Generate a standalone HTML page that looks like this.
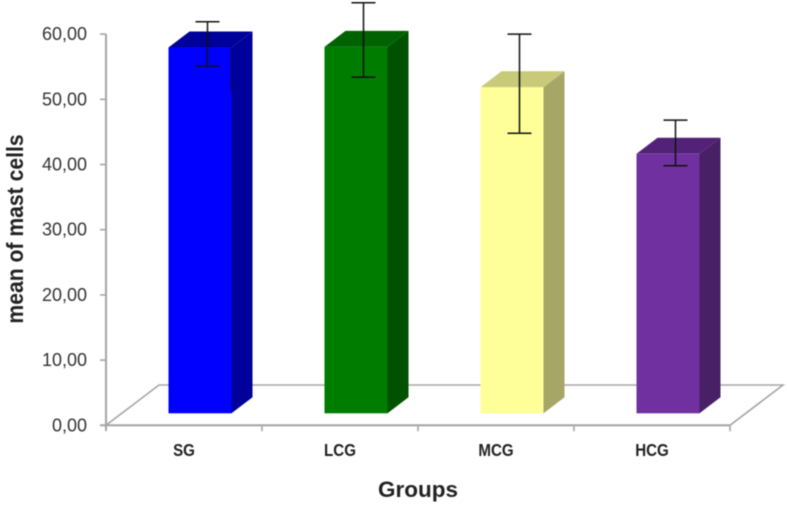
<!DOCTYPE html>
<html lang="en">
<head>
<meta charset="utf-8">
<title>Mean of mast cells by group</title>
<style>
  html, body { margin: 0; padding: 0; background: #fff; }
  #chart { display: block; width: 787px; height: 506px; font-family: "Liberation Sans", sans-serif; filter: blur(0.4px); }
</style>
</head>
<body>
<svg id="chart" xmlns="http://www.w3.org/2000/svg" width="787" height="506" viewBox="0 0 787 506"></svg>
<script>
const categories = ['SG', 'LCG', 'MCG', 'HCG'];
const means = [56.1, 56.2, 50.0, 39.8];
const errorHigh = [61.9, 64.8, 60.0, 46.8];
const errorLow = [55.1, 53.4, 44.8, 39.8];
const yTicks = [0, 10, 20, 30, 40, 50, 60];
const yTickLabels = ['0,00', '10,00', '20,00', '30,00', '40,00', '50,00', '60,00'];
const frontColors = ['#0000ff', '#007c00', '#ffff99', '#7030a0'];
const topColors = ['#00009a', '#006200', '#c9c97a', '#532278'];
const sideColors = ['#00009a', '#005200', '#a6a667', '#472066'];

const svg = document.getElementById('chart');
const NS = 'http://www.w3.org/2000/svg';
const axisLeft = 106, axisBottom = 425.3, unitPx = 6.52, bandW = 156;
const depthX = 53, depthY = 40.3, barDX = 21, barDY = 16, barW = 63, baseRise = 12;
const axisColor = '#a6a6a6';

function yScale(v) { return axisBottom - v * unitPx; }
function bandLeft(i) { return axisLeft + i * bandW; }

function add(tag, attrs, text) {
  const el = document.createElementNS(NS, tag);
  for (const k in attrs) el.setAttribute(k, attrs[k]);
  if (text !== undefined) el.textContent = text;
  svg.appendChild(el);
  return el;
}

/* Floor of the 3D plot */
const plotRight = bandLeft(categories.length);
const floor = add('polygon', {
  points: [[axisLeft, axisBottom], [axisLeft + depthX, axisBottom - depthY], [plotRight + depthX, axisBottom - depthY], [plotRight, axisBottom]].join(' '),
  fill: '#ffffff', stroke: axisColor, 'stroke-width': 1.6
});



/* Y axis */
const yAxis = add('line', { x1: axisLeft, y1: yScale(60), x2: axisLeft, y2: axisBottom + 5, stroke: axisColor, 'stroke-width': 2 });



yTicks.forEach(function (t, i) {
  const tick = add('line', { x1: axisLeft - 6, y1: yScale(t), x2: axisLeft, y2: yScale(t), stroke: axisColor, 'stroke-width': 1.6 });
  
  
  const label = add('text', { x: 87, y: yScale(t) + 6, 'text-anchor': 'end', 'font-size': 18, fill: '#333333' }, yTickLabels[i]);
  
  
});

/* X axis */
const xAxis = add('line', { x1: axisLeft - 6, y1: axisBottom, x2: plotRight, y2: axisBottom, stroke: axisColor, 'stroke-width': 2 });



for (let i = 0; i <= categories.length; i++) {
  const xt = add('line', { x1: bandLeft(i), y1: axisBottom, x2: bandLeft(i), y2: axisBottom + 6, stroke: axisColor, 'stroke-width': 1.6 });
  
  
}

/* Bars, error bars, category labels */
categories.forEach(function (c, i) {
  const x0 = bandLeft(i) + 62.5;
  const x1 = x0 + barW;
  const yTop = yScale(means[i]) - baseRise;
  const yBase = axisBottom - baseRise;

  const side = add('polygon', {
    points: [[x1, yTop], [x1 + barDX, yTop - barDY], [x1 + barDX, yBase - barDY], [x1, yBase]].join(' '),
    fill: sideColors[i]
  });
  
  

  const top = add('polygon', {
    points: [[x0, yTop], [x0 + barDX, yTop - barDY], [x1 + barDX, yTop - barDY], [x1, yTop]].join(' '),
    fill: topColors[i]
  });
  
  

  const front = add('rect', { x: x0, y: yTop, width: barW, height: yBase - yTop, fill: frontColors[i] });
  
  

  const cx = x0 + barW / 2 + 7.5;
  const stem = add('line', { x1: cx, y1: yScale(errorHigh[i]), x2: cx, y2: yScale(errorLow[i]), stroke: '#111111', 'stroke-width': 1.5 });
  
  

  const capTop = add('line', { x1: cx - 12, y1: yScale(errorHigh[i]), x2: cx + 12, y2: yScale(errorHigh[i]), stroke: '#111111', 'stroke-width': 1.5 });
  
  

  const capLow = add('line', { x1: cx - 12, y1: yScale(errorLow[i]), x2: cx + 12, y2: yScale(errorLow[i]), stroke: '#111111', 'stroke-width': 1.5 });
  
  

  const cat = add('text', { x: 0, y: 0, transform: 'translate(' + (bandLeft(i) + 78) + ' 456) scale(0.84 1)', 'text-anchor': 'middle', 'font-size': 18, 'font-weight': 'bold', fill: '#222222' }, c);
  
  
});

/* Axis titles */
const xTitle = add('text', { x: 418, y: 497, 'text-anchor': 'middle', 'font-size': 22.5, 'font-weight': 'bold', fill: '#222222' }, 'Groups');



const yTitle = add('text', { x: 0, y: 0, transform: 'translate(23 229) rotate(-90) scale(0.92 1)', 'text-anchor': 'middle', 'font-size': 23, 'font-weight': 'bold', fill: '#222222' }, 'mean of mast cells');



/* Thin dark mark along the front-right edge of the first bar */
const edgeMark = add('line', { x1: bandLeft(0) + 62.5 + barW - 0.5, y1: yScale(means[0]) - baseRise, x2: bandLeft(0) + 62.5 + barW - 0.5, y2: yScale(means[0]) - baseRise + 43, stroke: '#101040', 'stroke-width': 1 });


</script>
</body>
</html>
